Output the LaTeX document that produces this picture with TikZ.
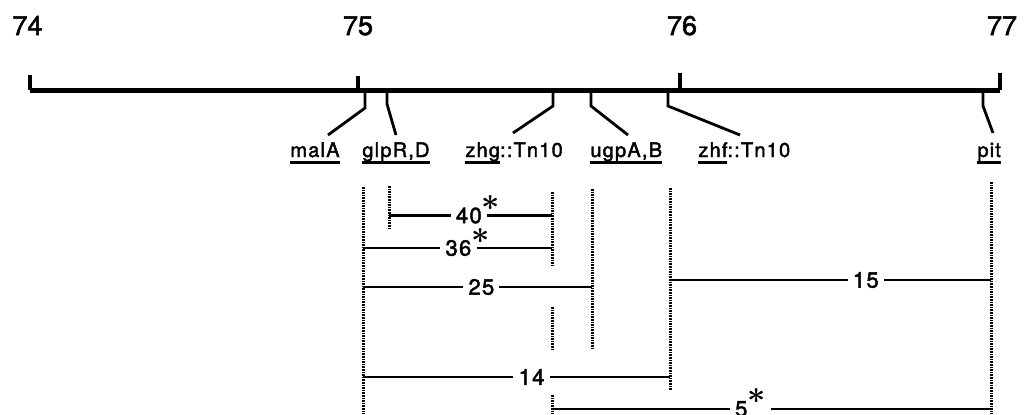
\documentclass[tikz,border=0pt]{standalone}
\usepackage{amsmath}
\usepackage{fontspec}
\usepackage{graphicx}
\setmainfont[FakeBold=2]{TeX Gyre Heros}
\newfontfamily\genefont[LetterSpace=6.0,FakeBold=2]{TeX Gyre Heros}
\newfontfamily\distfont[LetterSpace=6.0,FakeBold=2]{TeX Gyre Heros}
\usetikzlibrary{calc}
\newcommand{\gene}[1]{\setbox0=\hbox{#1}\rlap{\rule[-3.3pt]{\wd0}{1.1pt}}\box0}
\newcommand{\dstar}{\rlap{\smash{\raisebox{6.3pt}{\scalebox{1.45}{$\boldsymbol{\ast}$}}}}}
\newcommand{\dstarw}{\smash{\raisebox{6.3pt}{\scalebox{1.45}{$\boldsymbol{\ast}$}}}}

\begin{document}
\begin{tikzpicture}[x=0.5pt,y=-0.5pt,
  mapline/.style={line width=2.5pt},
  tickline/.style={line width=1.7pt},
  stem/.style={line width=1.4pt},
  dotline/.style={line width=1.5pt,dash pattern=on 0.8pt off 0.5pt},
  span/.style={line width=1.35pt},
  poslbl/.style={anchor=base,inner sep=0pt,font=\fontsize{13.5}{15}\selectfont},
  genelbl/.style={anchor=base west,inner sep=0pt,font=\genefont\fontsize{10}{12}\selectfont},
  dist/.style={fill=white,inner sep=2.6pt,font=\distfont\fontsize{11}{13}\selectfont}]
  \useasboundingbox (0,0) rectangle (1031,414);
  % map positions (min)
  \coordinate (m74) at (30,90);
  \coordinate (m75) at (358,90);
  \coordinate (m76) at (680,90);
  \coordinate (m77) at (1000,90);
  \draw[mapline] (m74) -- (m77);
  \draw[tickline] (m74) -- ++(0,-15);
  \draw[tickline] (m75) -- ++(0,-14);
  \draw[tickline] (m76) -- ++(0,-17);
  \draw[tickline] (m77) -- ++(0,-17);
  \node[poslbl] (lab74) at (27.5,35) {74};
  \node[poslbl] (lab75) at (358,35) {75};
  \node[poslbl] (lab76) at (682,35) {76};
  \node[poslbl] (lab77) at (1002,35) {77};
  % gene labels
  \node[genelbl] (malA) at (290,157) {\gene{malA}};
  \node[genelbl] (glpRD) at (362,157) {\gene{glpR,D}};
  \node[genelbl] (zhg) at (465,157) {\gene{zhg}::Tn10};
  \node[genelbl] (ugpAB) at (590,157) {\gene{ugpA,B}};
  \node[genelbl] (zhf) at (698,157) {\gene{zhf}::Tn10};
  \node[genelbl] (pit) at (977,157) {\gene{pit}};
  % stems from the map
  \coordinate (malA-top) at (365,92);  \coordinate (malA-foot) at (328,135);
  \coordinate (glpRD-top) at (387,92); \coordinate (glpRD-foot) at (396,135);
  \coordinate (zhg-top) at (553,92);   \coordinate (zhg-foot) at (513,133);
  \coordinate (ugpAB-top) at (591,92); \coordinate (ugpAB-foot) at (628,135);
  \coordinate (zhf-top) at (668,92);   \coordinate (zhf-foot) at (740,135);
  \coordinate (pit-top) at (983,92);   \coordinate (pit-foot) at (993,133);
  \draw[stem] (malA-top) -- ++(0,16) -- (malA-foot);
  \draw[stem] (glpRD-top) -- ++(0,12) -- (glpRD-foot);
  \draw[stem] (zhg-top) -- ++(0,14) -- (zhg-foot);
  \draw[stem] (ugpAB-top) -- ++(0,14) -- (ugpAB-foot);
  \draw[stem] (zhf-top) -- ++(0,14) -- (zhf-foot);
  \draw[stem] (pit-top) -- ++(0,14) -- (pit-foot);
  % dotted end points
  \draw[dotline] (363,187) -- (363,414);
  \draw[dotline] (389,186) -- (389,228);
  \draw[dotline] (552,192) -- (552,267);
  \draw[dotline] (552,307) -- (552,350);
  \draw[dotline] (552,395) -- (552,414);
  \draw[dotline] (592,189) -- (592,350);
  \draw[dotline] (670,188) -- (670,390);
  \draw[dotline] (991,182) -- (991,414);
  % cotransduction spans
  \coordinate (c40a) at (389,215.5); \coordinate (c40b) at (552,215.5);
  \coordinate (c36a) at (363,248);   \coordinate (c36b) at (552,248);
  \coordinate (c25a) at (363,287);   \coordinate (c25b) at (592,287);
  \coordinate (c15a) at (670,280);   \coordinate (c15b) at (991,280);
  \coordinate (c14a) at (363,377);   \coordinate (c14b) at (670,377);
  \coordinate (c5a) at (552,409);    \coordinate (c5b) at (991,409);
  \draw[span] (c40a) -- node[dist,pos=0.49] (d40) {40\dstar} (c40b);
  \draw[span] (c36a) -- node[dist,pos=0.505] (d36) {36\dstar} (c36b);
  \draw[span] (c25a) -- node[dist,pos=0.517] (d25) {25} (c25b);
  \draw[span] (c15a) -- node[dist,pos=0.61] (d15) {15} (c15b);
  \draw[span] (c14a) -- node[dist,pos=0.549] (d14) {14} (c14b);
  \draw[span] (c5a) -- node[dist,pos=0.452] (d5) {5\dstarw} (c5b);
\end{tikzpicture}
\end{document}
